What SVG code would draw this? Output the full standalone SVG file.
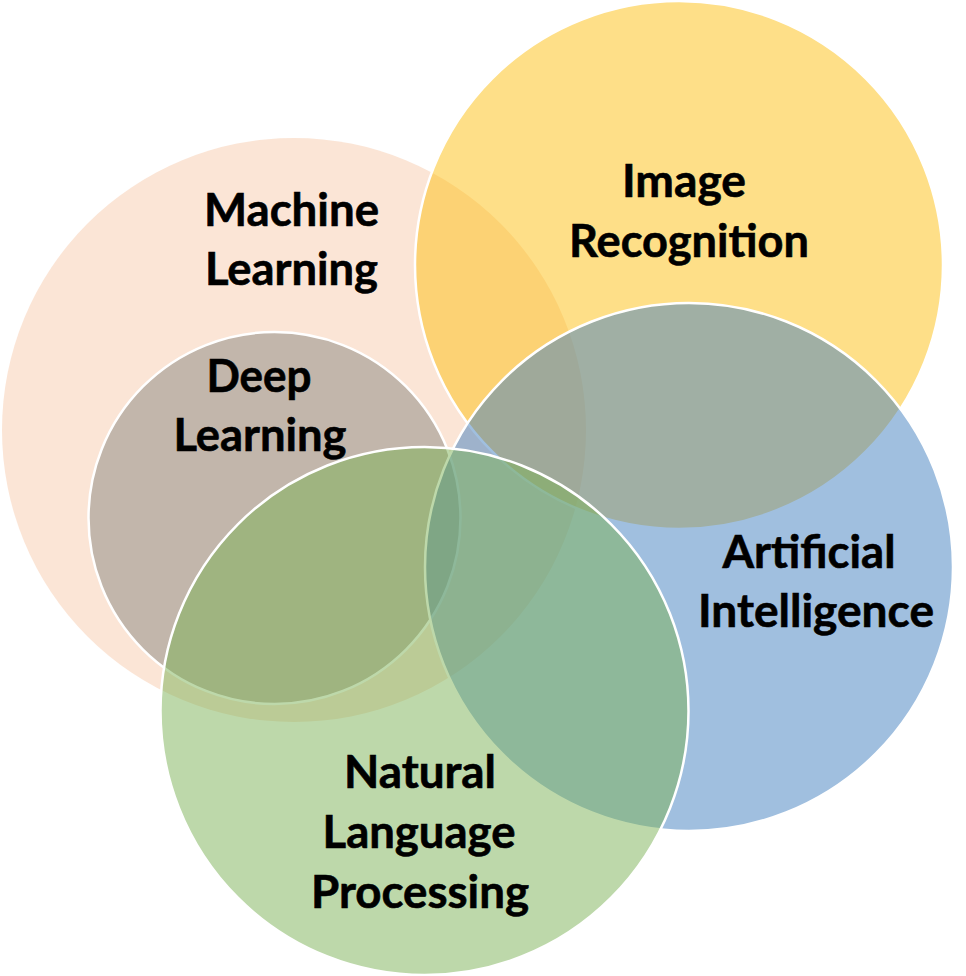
<svg xmlns="http://www.w3.org/2000/svg" width="966" height="976" viewBox="0 0 966 976">
  <style>
    .c { stroke: #FFFFFF; stroke-width: 2.5; fill-opacity: 0.5; }
    .ml { fill: #F7CBAD; stroke: none; }
    .dl { fill: #89877F; }
    .ir { fill: #FDBF11; }
    .ai { fill: #417FBF; }
    .nlp { fill: #7BB155; }
    .t { font-family: Lato, "Open Sans", "Liberation Sans", sans-serif; font-weight: bold; font-size: 45px; fill: #000000; stroke: #000000; stroke-width: 0.6; text-anchor: middle; }
  </style>
  <rect width="966" height="976" fill="#FFFFFF"/>
  <g id="machine-learning">
    <circle class="c ml" cx="294" cy="430" r="292"/>
  </g>
  <g id="deep-learning">
    <circle class="c dl" cx="274.5" cy="518" r="186"/>
  </g>
  <g id="image-recognition">
    <circle class="c ir" cx="679" cy="265" r="264"/>
  </g>
  <g id="artificial-intelligence">
    <circle class="c ai" cx="689" cy="567" r="264"/>
  </g>
  <g id="natural-language-processing">
    <circle class="c nlp" cx="424.5" cy="711" r="264"/>
  </g>
  <g id="connectors"></g>
  <g id="labels">
    <text class="t" x="291.5" y="226" textLength="175" lengthAdjust="spacingAndGlyphs">Machine</text>
    <text class="t" x="291.5" y="285" textLength="173" lengthAdjust="spacingAndGlyphs">Learning</text>
    <text class="t" x="684" y="197" textLength="124" lengthAdjust="spacingAndGlyphs">Image</text>
    <text class="t" x="689" y="257" textLength="240" lengthAdjust="spacingAndGlyphs">Recognition</text>
    <text class="t" x="259" y="392" textLength="105" lengthAdjust="spacingAndGlyphs">Deep</text>
    <text class="t" x="260" y="451" textLength="173" lengthAdjust="spacingAndGlyphs">Learning</text>
    <text class="t" x="809" y="568" textLength="173" lengthAdjust="spacingAndGlyphs">Artificial</text>
    <text class="t" x="816" y="627" textLength="236" lengthAdjust="spacingAndGlyphs">Intelligence</text>
    <text class="t" x="420" y="788" textLength="152" lengthAdjust="spacingAndGlyphs">Natural</text>
    <text class="t" x="419" y="848" textLength="193" lengthAdjust="spacingAndGlyphs">Language</text>
    <text class="t" x="420" y="908" textLength="218" lengthAdjust="spacingAndGlyphs">Processing</text>
  </g>
</svg>
